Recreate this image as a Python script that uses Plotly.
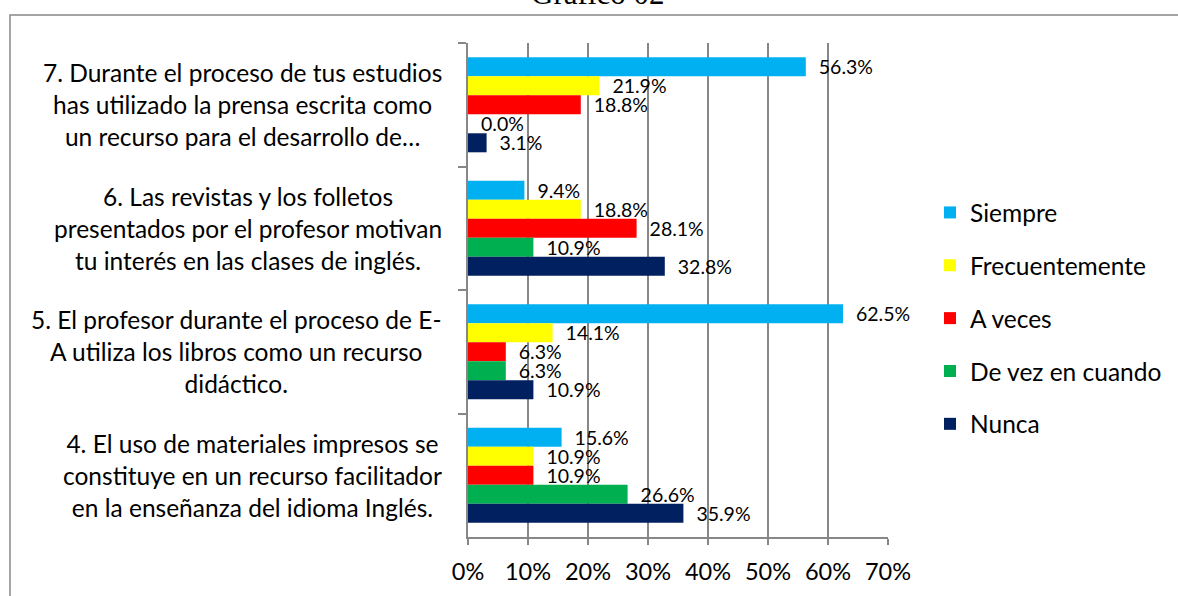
import plotly.graph_objects as go

# ---- data ----
cat_keys = ["Q7", "Q6", "Q5", "Q4"]
cat_labels = [
    "7. Durante el proceso de tus estudios<br>has utilizado la prensa escrita como<br>un recurso para el desarrollo de…",
    "6. Las revistas y los folletos<br>presentados por el profesor motivan<br>tu interés en las clases de inglés.",
    "5. El profesor durante el proceso de E-<br>A utiliza los libros como un recurso<br>didáctico.",
    "4. El uso de materiales impresos se<br>constituye en un recurso facilitador<br>en la enseñanza del idioma Inglés.",
]
series_names = ["Siempre", "Frecuentemente", "A veces", "De vez en cuando", "Nunca"]
siempre = [56.3, 9.4, 62.5, 15.6]
frecuentemente = [21.9, 18.8, 14.1, 10.9]
a_veces = [18.8, 28.1, 6.3, 10.9]
de_vez = [0.0, 10.9, 6.3, 26.6]
nunca = [3.1, 32.8, 10.9, 35.9]
series_values = [siempre, frecuentemente, a_veces, de_vez, nunca]
colors = ["#00B0F0", "#FFFF00", "#FF0000", "#00B050", "#002060"]
x_ticks = [0, 10, 20, 30, 40, 50, 60, 70]
title_text = "Gráfico 02"

FONT = "Lato"
W, H = 1178, 596
L, R, T, B = 468, 290, 43, 59
pw, ph = W - L - R, H - T - B

def px_x(p):
    return (p - L) / pw

def px_y(p):
    return (H - B - p) / ph

fig = go.Figure()
for name, vals, col in zip(series_names, series_values, colors):
    fig.add_trace(go.Bar(
        y=cat_keys, x=vals, name=name, orientation="h",
        marker=dict(color=col, line=dict(width=0)),
        text=["\u00a0\u00a0" + f"{v:.1f}%" for v in vals],
        textposition="outside", constraintext="none", cliponaxis=False,
        textfont=dict(family=FONT, size=19.5, color="#000000"),
        legendgroup=name,
    ))

# category labels (centered multi-line)
for k, lab in zip(cat_keys, cat_labels):
    fig.add_annotation(
        x=0, xref="paper", y=k, yref="y", text=lab, showarrow=False,
        xanchor="right", yanchor="middle", align="center", xshift=-24,
        font=dict(family=FONT, size=24.5, color="#000000"),
    )

# title (clipped at top)
fig.add_annotation(
    x=px_x(597), xref="paper", y=px_y(13), yref="paper", text=title_text,
    showarrow=False, xanchor="center", yanchor="bottom",
    font=dict(family="Liberation Serif", size=31, color="#000000"),
)

# outer chart frame
fig.add_shape(type="rect", xref="paper", yref="paper",
              x0=px_x(10), x1=px_x(1190), y0=px_y(610), y1=px_y(15),
              line=dict(color="#888888", width=1.5), layer="below")

fig.update_layout(
    width=W, height=H,
    margin=dict(l=L, r=R, t=T, b=B, autoexpand=False),
    paper_bgcolor="white", plot_bgcolor="white",
    barmode="group", bargap=0.23, bargroupgap=0,
    showlegend=True,
    legend=dict(x=px_x(930), y=px_y(190), xanchor="left", yanchor="top",
                font=dict(family=FONT, size=24.5, color="#000000"),
                traceorder="grouped", tracegroupgap=18,
                bgcolor="rgba(0,0,0,0)"),
    font=dict(family=FONT, color="#000000"),
)
fig.update_xaxes(
    range=[0, 70], tickvals=x_ticks, ticktext=[f"{t}%" for t in x_ticks],
    showgrid=True, gridcolor="#878787", gridwidth=1.5,
    showline=True, linecolor="#878787", linewidth=1.5,
    ticks="outside", ticklen=6, tickcolor="#878787", tickwidth=1.5,
    tickfont=dict(family=FONT, size=23.5, color="#000000"),
    ticklabelstandoff=7, zeroline=False, fixedrange=True,
)
fig.update_yaxes(
    type="category",
    categoryorder="array", categoryarray=cat_keys, autorange="reversed",
    showticklabels=False, showgrid=False,
    showline=True, linecolor="#878787", linewidth=1.5,
    ticks="outside", ticklen=8, tickcolor="#878787", tickwidth=1.5,
    tickson="boundaries", fixedrange=True,
)

fig.write_html("out.html", config={"displayModeBar": False},
               post_script="document.body.style.margin='0';document.body.style.overflow='hidden';")
